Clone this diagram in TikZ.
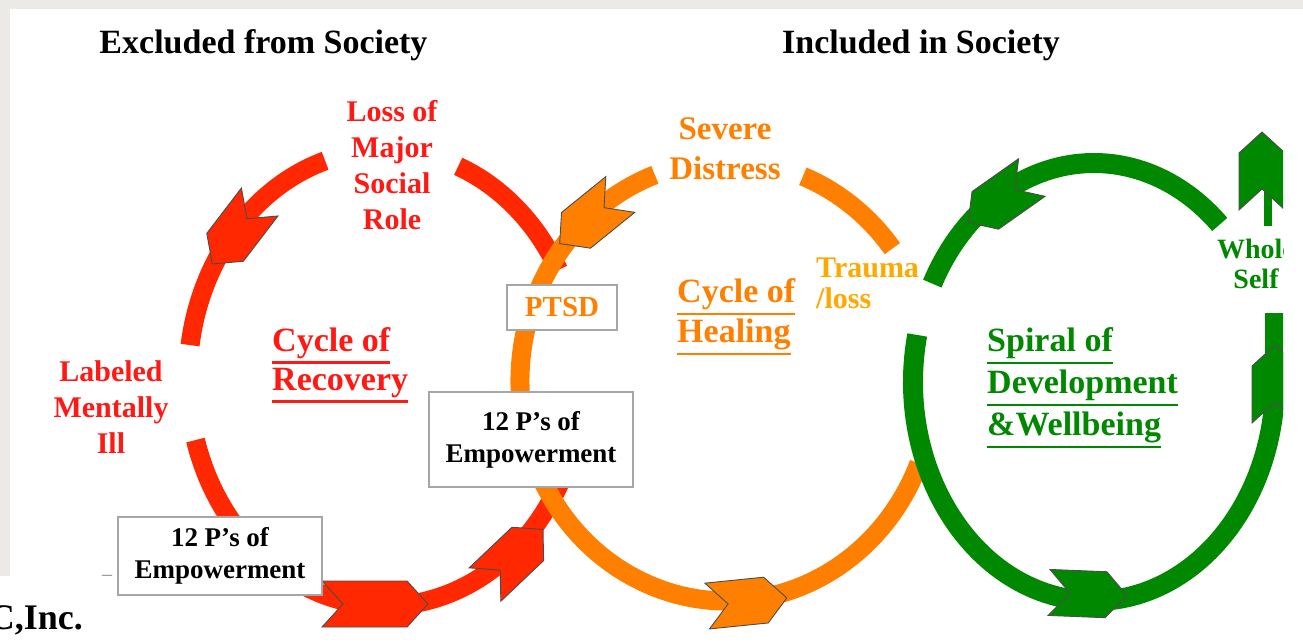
\documentclass[tikz,border=0pt]{standalone}
\usepackage{fontspec}
\setmainfont{Liberation Serif}

\definecolor{pagegrey}{RGB}{236,234,230}
\definecolor{ringred}{RGB}{255,40,0}
\definecolor{labelred}{RGB}{255,25,20}
\definecolor{ringorange}{RGB}{255,128,0}
\definecolor{ringgreen}{RGB}{0,136,0}
\definecolor{traumagold}{RGB}{255,168,0}

\newcommand\setfs[2]{\fontsize{#1}{#2}\selectfont}
% thick underline that sits just below the baseline
\newcommand\ulbar[1]{\vtop{\hbox{#1}\kern3pt\hrule height 2.4pt}}
% chevron arrow head: x, y, heading (degrees), length, fill colour
\newcommand\chevr[5]{%
  \begin{scope}[shift={(#1,#2)}, rotate=#3]
    \filldraw[chev, fill=#5] (-#4/2,23) -- (#4/2-21,23) -- (#4/2,0)
      -- (#4/2-21,-23) -- (-#4/2,-23) -- (-#4/2+21,0) -- cycle;
  \end{scope}}

\begin{document}
\begin{tikzpicture}[x=1pt, y=-1pt,
  ring/.style={line width=19},
  chev/.style={draw=black!70, line width=0.9, line join=miter},
  headtxt/.style={font=\bfseries\setfs{34}{40}, inner sep=0},
  lbl/.style={font=\bfseries\setfs{30}{36}, align=center, inner sep=0},
  ulnote/.style={font=\bfseries\setfs{34}{40}, align=left, inner sep=0, anchor=west},
  pbox/.style={draw=black!35, fill=white, line width=1.6, inner sep=0,
    align=center, font=\bfseries\setfs{27}{32}},
]
\useasboundingbox (0,0) rectangle (1303,644);
\fill[pagegrey] (0,0) rectangle (1303,644);
\fill[white] (10,9) rectangle (1303,644);
\fill[white] (0,576) rectangle (10,644);

% ---- Cycle of Recovery (red ring) ----
\begin{scope}[shift={(385,378)}]
  \draw[ring, ringred] (252.3:197 and 228)
    arc[start angle=252.3, end angle=188.3, x radius=197, y radius=228];
  \draw[ring, ringred] (-68.2:197 and 228)
    arc[start angle=-68.2, end angle=-28.3, x radius=197, y radius=228];
  \draw[ring, ringred] (164.2:197 and 228)
    arc[start angle=164.2, end angle=20, x radius=197, y radius=228];
\end{scope}
\chevr{236}{233}{-127.4}{78}{ringred}
\chevr{375}{604}{0}{106}{ringred}
\chevr{514}{557}{43.5}{80}{ringred}

% ---- Cycle of Healing (orange ring) ----
\begin{scope}[shift={(727,381)}]
  \draw[ring, ringorange] (249.6:207 and 220)
    arc[start angle=249.6, end angle=22, x radius=207, y radius=220];
  \draw[ring, ringorange] (-68.5:207 and 220)
    arc[start angle=-68.5, end angle=-37, x radius=207, y radius=220];
\end{scope}
\chevr{590}{219}{-141}{78}{ringorange}
\chevr{747}{602}{5.8}{80}{ringorange}

% ---- Spiral of Development (green), cut at the slide edge ----
\begin{scope}
  \clip (0,0) rectangle (1283,644);
  \begin{scope}[shift={(1094,382)}]
    \draw[ring, line width=20, ringgreen] (-46:181 and 219)
      arc[start angle=-46, end angle=-153.3, x radius=181, y radius=219];
    \draw[ring, line width=20, ringgreen] (192.4:181 and 219)
      arc[start angle=192.4, end angle=0, x radius=181, y radius=219] -- (181,-69);
  \end{scope}
  \draw[ringgreen, line width=8] (1268,226) -- (1268,185);
  \chevr{1000}{200}{-144.8}{78}{ringgreen}
  \chevr{1088}{594}{-2.3}{78}{ringgreen}
  \chevr{1275}{384}{90}{78}{ringgreen}
  \chevr{1262}{171}{90}{78}{ringgreen}
  \node[lbl, text=ringgreen, font=\bfseries\setfs{28}{30}] (whole) at (1256,264) {Whole\\Self};
\end{scope}

% ---- boxes ----
\node[pbox, text=ringorange, font=\bfseries\setfs{29}{34},
  minimum width=110, minimum height=45] (ptsd) at (562,307.5) {PTSD};
\node[pbox, minimum width=204, minimum height=95] (emp1) at (531,439.5) {12 P’s of\\Empowerment};
\node[pbox, minimum width=204, minimum height=78] (emp2) at (220,556) {12 P’s of\\Empowerment};

% ---- headings and labels ----
\node[headtxt] (excl) at (263.5,45) {Excluded from Society};
\node[headtxt] (incl) at (921,45) {Included in Society};

\node[lbl, text=labelred] (loss) at (392,165) {Loss of\\Major\\Social\\Role};
\node[lbl, text=labelred] (labeled) at (111,407) {Labeled\\Mentally\\Ill};
\node[lbl, text=ringorange, font=\bfseries\setfs{33}{40}] (distress) at (725,149) {Severe\\Distress};
\node[lbl, text=traumagold, font=\bfseries\setfs{30}{31}, align=left, anchor=west]
  (trauma) at (816,283) {Trauma\\/loss};

\node[ulnote, text=labelred, font=\bfseries\setfs{34}{39}] (recovery) at (272,365)
  {\ulbar{Cycle of}\\\ulbar{Recovery}};
\node[ulnote, text=ringorange] (healing) at (677,317)
  {\ulbar{Cycle of}\\\ulbar{Healing}};
\node[ulnote, text=ringgreen, font=\bfseries\setfs{34}{42}] (spiral) at (987,388)
  {\ulbar{Spiral of}\\\ulbar{Development}\\\ulbar{\&Wellbeing}};

% ---- footer fragments ----
\node[anchor=base east, font=\bfseries\setfs{36}{36}, inner sep=0] (inc) at (83,629) {C,Inc.};
\node[text=black!45, font=\setfs{20}{20}, inner sep=0] (dash) at (107,578) {–};
\end{tikzpicture}
\end{document}
